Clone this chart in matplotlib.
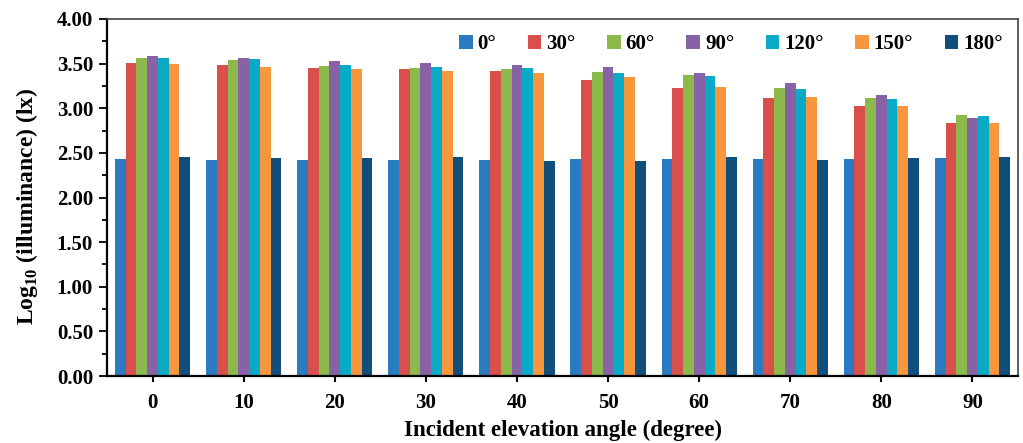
import matplotlib.pyplot as plt
import numpy as np

plt.rcParams['font.family'] = ['Liberation Serif', 'DejaVu Serif']
plt.rcParams['font.weight'] = 'bold'
plt.rcParams['mathtext.fontset'] = 'custom'
plt.rcParams['mathtext.rm'] = 'Liberation Serif:bold'
plt.rcParams['mathtext.bf'] = 'Liberation Serif:bold'

angles = [0, 10, 20, 30, 40, 50, 60, 70, 80, 90]
series_names = ['0°', '30°', '60°', '90°', '120°', '150°', '180°']

v0 = [2.43, 2.42, 2.42, 2.42, 2.42, 2.43, 2.43, 2.43, 2.43, 2.44]
v30 = [3.51, 3.48, 3.45, 3.44, 3.42, 3.32, 3.23, 3.11, 3.02, 2.83]
v60 = [3.56, 3.54, 3.47, 3.45, 3.44, 3.41, 3.37, 3.23, 3.12, 2.92]
v90 = [3.59, 3.56, 3.53, 3.51, 3.48, 3.46, 3.40, 3.28, 3.15, 2.89]
v120 = [3.56, 3.55, 3.49, 3.46, 3.45, 3.40, 3.36, 3.22, 3.10, 2.91]
v150 = [3.50, 3.46, 3.44, 3.42, 3.40, 3.35, 3.24, 3.13, 3.03, 2.84]
v180 = [2.45, 2.44, 2.44, 2.45, 2.41, 2.41, 2.45, 2.42, 2.44, 2.45]

colors = ['#2a7bbf', '#d84f4b', '#8cb94c', '#8862a6', '#08aac6', '#f8963e', '#114e7b']

fig = plt.figure(figsize=(10.23, 4.43), dpi=100)
ax = fig.add_axes([107/1023, 1 - 376/443, 911/1023, 357/443])

x = np.arange(len(angles))
w = 0.118
all_vals = [v0, v30, v60, v90, v120, v150, v180]
for i, vals in enumerate(all_vals):
    ax.bar(x + (i - 3) * w, vals, w, color=colors[i], label=series_names[i])

ax.set_xlim(-0.5, 9.5)
ax.set_ylim(0, 4)
ax.set_yticks(np.arange(0, 4.01, 0.5))
ax.set_yticks(np.arange(0, 4.01, 0.25), minor=True)
ax.set_yticklabels(['%.2f' % t for t in np.arange(0, 4.01, 0.5)])
ax.set_xticks(x)
ax.set_xticklabels([str(a) for a in angles])
ax.tick_params(axis='x', direction='out', length=4, width=1.5, labelsize=15, pad=8)
ax.tick_params(axis='y', which='major', direction='out', length=6, width=1.3, labelsize=15, pad=4)
ax.tick_params(axis='y', which='minor', direction='out', length=3.5, width=1.3)
for s in ['left', 'bottom']:
    ax.spines[s].set_linewidth(1.6)
for s in ['top', 'right']:
    ax.spines[s].set_linewidth(1.2)
    ax.spines[s].set_color('#444444')

ax.set_xlabel('Incident elevation angle (degree)', fontsize=16.5, fontweight='bold', labelpad=5)
ax.set_ylabel(r'Log$_{\mathbf{10}}$ (illuminance) (lx)', fontsize=17, fontweight='bold')
ax.yaxis.set_label_coords(-0.073, 0.476)

ax.legend(ncol=7, loc='center left', bbox_to_anchor=(352/911, 1 - 25/357), frameon=False,
          fontsize=15, handlelength=0.65, handleheight=0.65, handletextpad=0.25,
          columnspacing=1.5, borderaxespad=0, borderpad=0)

fig.savefig('out.png', dpi=100)
